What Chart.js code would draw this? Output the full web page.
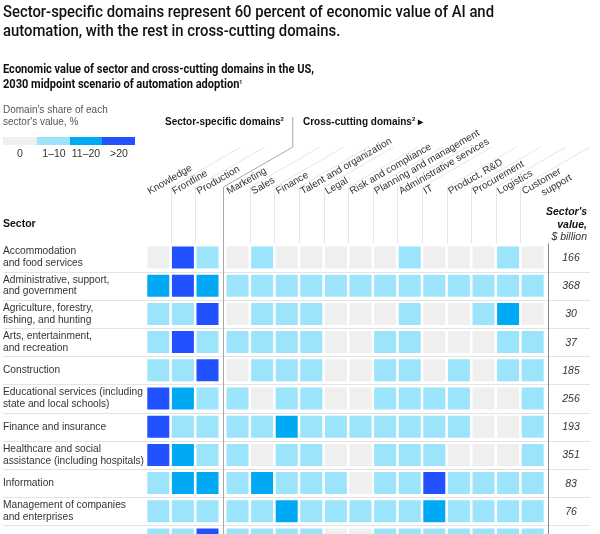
<!DOCTYPE html>
<html>
<head>
<meta charset="utf-8">
<script src="https://cdn.jsdelivr.net/npm/chart.js@4.4.1/dist/chart.umd.min.js"></script>
<style>
  html, body { margin: 0; padding: 0; background: #fff; overflow: hidden; }
  body { width: 600px; height: 534px; position: relative; font-family: "Liberation Sans", Arial, sans-serif; color: #111; }
  #wrap { position: absolute; left: 0; top: 0; width: 600px; height: 570px; }
  .t { position: absolute; white-space: nowrap; }
  #title { left: 3px; top: 3px; font-family: Roboto, sans-serif; font-size: 16.5px; font-weight: 500; line-height: 18.5px; color: #111; }
  #subtitle { left: 3px; top: 62px; font-family: Roboto, sans-serif; font-size: 12.5px; font-weight: 700; line-height: 13px; color: #111; }
  #legTitle { left: 3px; top: 104px; font-size: 10px; line-height: 12px; color: #555; }
  .sw { position: absolute; top: 137px; height: 8px; }
  .lg { position: absolute; top: 147px; font-size: 10.5px; color: #333; transform: translateX(-50%); }
  .grp { top: 116px; font-size: 10px; font-weight: 700; color: #111; }
  sup { font-size: 6px; vertical-align: 4px; }
</style>
</head>
<body>
<div id="wrap"><canvas id="myCanvas"></canvas></div>

<div class="t" id="title" data-w="491">Sector-specific domains represent 60 percent of economic value of AI and<br>automation, with the rest in cross-cutting domains.</div>
<div class="t" id="subtitle" data-w="311">Economic value of sector and cross-cutting domains in the US,<br>2030 midpoint scenario of automation adoption<sup>1</sup></div>
<div class="t" id="legTitle">Domain's share of each<br>sector's value, %</div>
<div class="sw" style="left:3px;width:34px;background:#efefef"></div>
<div class="sw" style="left:37px;width:33px;background:#9be4fc"></div>
<div class="sw" style="left:70px;width:32px;background:#00a9f4"></div>
<div class="sw" style="left:102px;width:33px;background:#2251ff"></div>
<div class="lg" style="left:20px">0</div>
<div class="lg" style="left:54px">1–10</div>
<div class="lg" style="left:86px">11–20</div>
<div class="lg" style="left:119px">&gt;20</div>
<div class="t grp" style="left:165px">Sector-specific domains<sup>2</sup></div>
<div class="t grp" style="left:303px">Cross-cutting domains<sup>2</sup> ▸</div>

<script>
const sectors = [
    "Accommodation\nand food services",
    "Administrative, support,\nand government",
    "Agriculture, forestry,\nfishing, and hunting",
    "Arts, entertainment,\nand recreation",
    "Construction",
    "Educational services (including\nstate and local schools)",
    "Finance and insurance",
    "Healthcare and social\nassistance (including hospitals)",
    "Information",
    "Management of companies\nand enterprises",
    "Manufacturing",
];

const domains = [
    "Knowledge", "Frontline", "Production",
    "Marketing", "Sales", "Finance", "Talent and organization", "Legal",
    "Risk and compliance", "Planning and management", "Administrative services",
    "IT", "Product, R&D", "Procurement", "Logistics", "Customer\nsupport",
];

// $ billion, last row is cut off in the picture
const sectorValues = [166, 368, 30, 37, 185, 256, 193, 351, 83, 76, null];

// share level per domain: 0 = 0%, 1 = 1-10%, 2 = 11-20%, 3 = >20%
const accommodation = [0, 3, 1, 0, 1, 0, 0, 0, 0, 0, 1, 0, 0, 0, 1, 0];
const administrative = [2, 3, 2, 1, 1, 1, 1, 1, 1, 1, 1, 1, 1, 1, 1, 1];
const agriculture = [1, 1, 3, 0, 1, 1, 1, 0, 0, 0, 1, 0, 0, 1, 2, 0];
const arts = [1, 3, 1, 1, 1, 1, 1, 0, 0, 1, 1, 0, 0, 0, 1, 1];
const construction = [1, 1, 3, 0, 1, 1, 1, 0, 0, 1, 1, 0, 1, 0, 1, 1];
const educational = [3, 2, 1, 1, 0, 1, 1, 0, 0, 1, 1, 1, 1, 0, 0, 1];
const finance = [3, 1, 1, 1, 1, 2, 1, 1, 1, 1, 1, 1, 1, 0, 0, 1];
const healthcare = [3, 2, 1, 1, 0, 1, 1, 0, 0, 1, 1, 1, 0, 0, 0, 1];
const information = [1, 2, 2, 1, 2, 1, 1, 1, 0, 1, 1, 3, 1, 1, 1, 1];
const management = [1, 1, 1, 1, 1, 2, 1, 1, 1, 1, 1, 2, 1, 1, 1, 1];
const manufacturing = [1, 1, 3, 1, 1, 1, 1, 0, 0, 1, 1, 1, 1, 1, 1, 1];

const shares = [accommodation, administrative, agriculture, arts, construction,
    educational, finance, healthcare, information, management, manufacturing];

const levelColors = ["#efefef", "#9be4fc", "#00a9f4", "#2251ff"];

// squeeze the headings to the width they have in the original
document.querySelectorAll("[data-w]").forEach((el) => {
    const w = el.getBoundingClientRect().width;
    el.style.transformOrigin = "0 0";
    el.style.transform = "scaleX(" + (+el.dataset.w / w) + ")";
});

// small extra gap between sector-specific and cross-cutting columns
function colPos(i) {
    return i < 3 ? i : i + 0.22;
}

const cells = [];
shares.forEach((row, r) => {
    row.forEach((lvl, c) => {
        cells.push({ x: colPos(c), y: r, lvl: lvl });
    });
});

function cellSide(chart) {
    const x = chart.scales.x;
    return Math.abs(x.getPixelForValue(1) - x.getPixelForValue(0)) - 2.6;
}

function seg(ctx, x1, y1, x2, y2) {
    ctx.beginPath();
    ctx.moveTo(x1, y1);
    ctx.lineTo(x2, y2);
    ctx.stroke();
}

const HEAD_Y = 187;
const SLANT = 80;
const ang = Math.PI / 6;

const decorations = {
    id: "decorations",
    beforeDatasetsDraw(chart) {
        const { ctx, scales: { x, y } } = chart;
        const side = cellSide(chart);
        const gridTop = y.getPixelForValue(-0.5);
        const bottom = chart.height;
        ctx.save();
        ctx.lineWidth = 1;

        // row rules
        ctx.strokeStyle = "#e4e4e4";
        for (let r = 0; r < sectors.length - 1; r++) {
            const yy = Math.round(y.getPixelForValue(r + 0.5)) + 0.5;
            seg(ctx, 3, yy, 590, yy);
        }

        // header rules
        ctx.strokeStyle = "#e6e6e6";
        domains.forEach((d, c) => {
            if (c === 0 || c === 3) return;
            const lx = Math.round(x.getPixelForValue(colPos(c)) - side / 2 - 1.3) + 0.5;
            seg(ctx, lx, gridTop, lx, HEAD_Y);
            seg(ctx, lx, HEAD_Y, lx + SLANT * Math.cos(ang), HEAD_Y - SLANT * Math.sin(ang));
        });

        // bracket between the two groups of domains
        ctx.strokeStyle = "#a8a8a8";
        const sx = Math.round(x.getPixelForValue(colPos(3)) - side / 2 - 3.5) + 0.5;
        const tx = sx + SLANT * Math.cos(ang);
        const ty = HEAD_Y - SLANT * Math.sin(ang);
        ctx.beginPath();
        ctx.moveTo(sx, bottom);
        ctx.lineTo(sx, HEAD_Y);
        ctx.lineTo(tx, ty);
        ctx.lineTo(tx, 117);
        ctx.stroke();

        // rule before values column
        ctx.strokeStyle = "#8a8a8a";
        seg(ctx, 548.5, gridTop, 548.5, bottom);
        ctx.restore();
    },
    afterDatasetsDraw(chart) {
        const { ctx, scales: { x, y } } = chart;
        const side = cellSide(chart);
        ctx.save();
        ctx.fillStyle = "#333";
        ctx.textBaseline = "middle";

        // row labels
        ctx.font = "10.2px 'Liberation Sans', Arial, sans-serif";
        ctx.textAlign = "left";
        sectors.forEach((s, r) => {
            const lines = s.split("\n");
            const cy = y.getPixelForValue(r);
            lines.forEach((ln, i) => {
                ctx.fillText(ln, 3, cy + (i - (lines.length - 1) / 2) * 11.8);
            });
        });

        // sector values
        ctx.font = "italic 10.5px 'Liberation Sans', Arial, sans-serif";
        ctx.textAlign = "center";
        sectorValues.forEach((v, r) => {
            if (v == null) return;
            ctx.fillText(String(v), 571, y.getPixelForValue(r) + 0.5);
        });

        // column headers
        ctx.font = "10px 'Liberation Sans', Arial, sans-serif";
        ctx.textAlign = "left";
        ctx.textBaseline = "alphabetic";
        domains.forEach((d, c) => {
            const lx = x.getPixelForValue(colPos(c)) - side / 2;
            ctx.save();
            ctx.translate(lx + 2.5, HEAD_Y + 7.5);
            ctx.rotate(-ang);
            const lines = d.split("\n");
            lines.forEach((ln, i) => {
                ctx.fillText(ln, i * 16, i * 11);
            });
            ctx.restore();
        });

        // header texts of label and value columns
        ctx.fillStyle = "#111";
        ctx.font = "bold 10.5px 'Liberation Sans', Arial, sans-serif";
        ctx.textBaseline = "middle";
        ctx.fillText("Sector", 3, 224);
        ctx.textAlign = "right";
        ctx.font = "italic bold 10.5px 'Liberation Sans', Arial, sans-serif";
        ctx.fillText("Sector's", 587, 212);
        ctx.fillText("value,", 587, 225);
        ctx.font = "italic 10.5px 'Liberation Sans', Arial, sans-serif";
        ctx.fillStyle = "#333";
        ctx.fillText("$ billion", 587, 237);
        ctx.restore();
    },
};

const gridTopPx = 243.4;
const rowPx = 28.2;

new Chart(document.getElementById("myCanvas"), {
    type: "scatter",
    data: {
        datasets: [
            {
                data: cells,
                pointStyle: "rect",
                backgroundColor: (ctx) => levelColors[ctx.raw ? ctx.raw.lvl : 0],
                borderWidth: 0,
                pointBorderWidth: 0,
                pointRadius: (ctx) => cellSide(ctx.chart) / (2 * Math.SQRT1_2),
                pointHoverRadius: (ctx) => cellSide(ctx.chart) / (2 * Math.SQRT1_2),
            },
        ],
    },
    options: {
        responsive: true,
        maintainAspectRatio: false,
        animation: false,
        events: [],
        layout: {
            padding: {
                left: 146,
                right: 55,
                top: gridTopPx,
                bottom: 570 - gridTopPx - rowPx * sectors.length,
            },
        },
        plugins: {
            legend: false,
            tooltip: { enabled: false },
        },
        scales: {
            x: { type: "linear", min: -0.5, max: colPos(domains.length - 1) + 0.5, display: false },
            y: { type: "linear", min: -0.5, max: sectors.length - 0.5, reverse: true, display: false },
        },
    },
    plugins: [decorations],
});
</script>
</body>
</html>
